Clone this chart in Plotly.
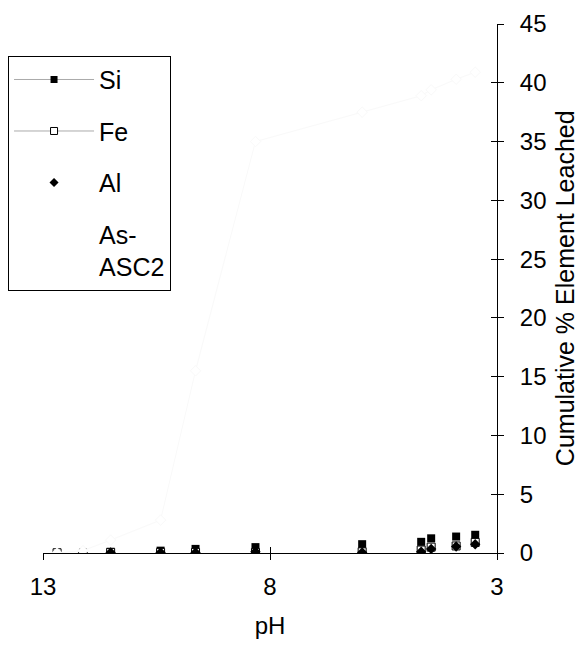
import plotly.graph_objects as go

# pH of each leaching step and cumulative % leached
pH = [12.69, 12.12, 11.51, 10.41, 9.64, 8.32, 5.97, 4.67, 4.45, 3.90, 3.48]
Si = [None, 0.05, 0.1, 0.2, 0.35, 0.5, 0.75, 0.95, 1.25, 1.4, 1.55]
Fe = [0.02, None, 0.05, 0.05, 0.05, 0.05, 0.1, 0.25, 0.5, 0.6, 0.9]
Al = [None, 0.0, 0.05, 0.05, 0.05, 0.1, 0.05, 0.1, 0.35, 0.55, 0.75]
As_ASC2 = [0.0, 0.2, 1.1, 2.8, 15.5, 35.0, 37.5, 38.9, 39.4, 40.3, 40.9]

x_ticks = [13, 8, 3]
y_ticks = [0, 5, 10, 15, 20, 25, 30, 35, 40, 45]

FONT = "Liberation Sans, Arial, sans-serif"
faint = "#f9f9f9"

fig = go.Figure()

# data traces (markers only in the plot)
fig.add_trace(go.Scatter(x=pH, y=Si, mode="markers", showlegend=False,
                         marker=dict(symbol="square", size=8, color="black")))
fig.add_trace(go.Scatter(x=pH, y=Fe, mode="markers", showlegend=False,
                         marker=dict(symbol="square", size=8, color="white",
                                     line=dict(color="black", width=1))))
fig.add_trace(go.Scatter(x=pH, y=Al, mode="markers", showlegend=False,
                         marker=dict(symbol="diamond", size=8, color="black")))
fig.add_trace(go.Scatter(x=pH, y=As_ASC2, mode="lines+markers", showlegend=False,
                         line=dict(color=faint, width=1),
                         marker=dict(symbol="diamond", size=8, color="white",
                                     line=dict(color=faint, width=1))))

# legend entries
fig.add_trace(go.Scatter(x=[None], y=[None], mode="lines+markers", name="Si",
                         legendgroup="a", line=dict(color="#aaaaaa", width=1),
                         marker=dict(symbol="square", size=7, color="black")))
fig.add_trace(go.Scatter(x=[None], y=[None], mode="lines+markers", name="Fe",
                         legendgroup="b", line=dict(color="#aaaaaa", width=1),
                         marker=dict(symbol="square", size=7, color="white",
                                     line=dict(color="black", width=1))))
fig.add_trace(go.Scatter(x=[None], y=[None], mode="markers", name="Al",
                         legendgroup="c",
                         marker=dict(symbol="diamond", size=7, color="black")))
fig.add_trace(go.Scatter(x=[None], y=[None], mode="markers", name="As-<br>ASC2",
                         legendgroup="d",
                         marker=dict(symbol="diamond", size=7, color="white",
                                     line=dict(color="white", width=1))))

# overlay axes just to get ticks that cross the axis lines
fig.add_trace(go.Scatter(x=[None], y=[None], xaxis="x2", yaxis="y2", showlegend=False))

fig.update_layout(
    width=583, height=645,
    paper_bgcolor="white", plot_bgcolor="white",
    margin=dict(l=35, r=94, t=16, b=100, autoexpand=False),
    font=dict(family=FONT, size=25, color="black"),
    xaxis=dict(range=[13, 3], tickvals=x_ticks, ticks="outside", ticklen=6,
               tickcolor="black", showline=True, linecolor="black", linewidth=1,
               showgrid=False, zeroline=False, ticklabelstandoff=6,
               tickfont=dict(size=24), automargin=False,
               title=dict(text="pH", standoff=18, font=dict(size=24))),
    yaxis=dict(range=[0, 45], tickvals=y_ticks, side="right", ticks="outside",
               ticklen=6, tickcolor="black", showline=True, linecolor="black",
               linewidth=1, showgrid=False, zeroline=False, ticklabelstandoff=11,
               tickfont=dict(size=24), automargin=False),
    xaxis2=dict(range=[13, 3], tickvals=x_ticks, overlaying="x", anchor="y2",
                ticks="inside", ticklen=6, tickcolor="black", showticklabels=False,
                showline=False, showgrid=False, zeroline=False),
    yaxis2=dict(range=[0, 45], tickvals=y_ticks, overlaying="y", side="right",
                anchor="x2", ticks="inside", ticklen=6, tickcolor="black",
                showticklabels=False, showline=False, showgrid=False, zeroline=False),
    legend=dict(x=-0.077, y=0.94, xanchor="left", yanchor="top",
                bordercolor="black", borderwidth=1, bgcolor="white",
                font=dict(size=25), itemwidth=80, tracegroupgap=16,
                traceorder="grouped"),
    annotations=[dict(text="Cumulative % Element Leached", textangle=-90,
                      xref="paper", yref="paper", x=1.149, y=0.5,
                      xanchor="center", yanchor="middle", showarrow=False,
                      font=dict(size=25))],
)

fig.write_html("out.html")
